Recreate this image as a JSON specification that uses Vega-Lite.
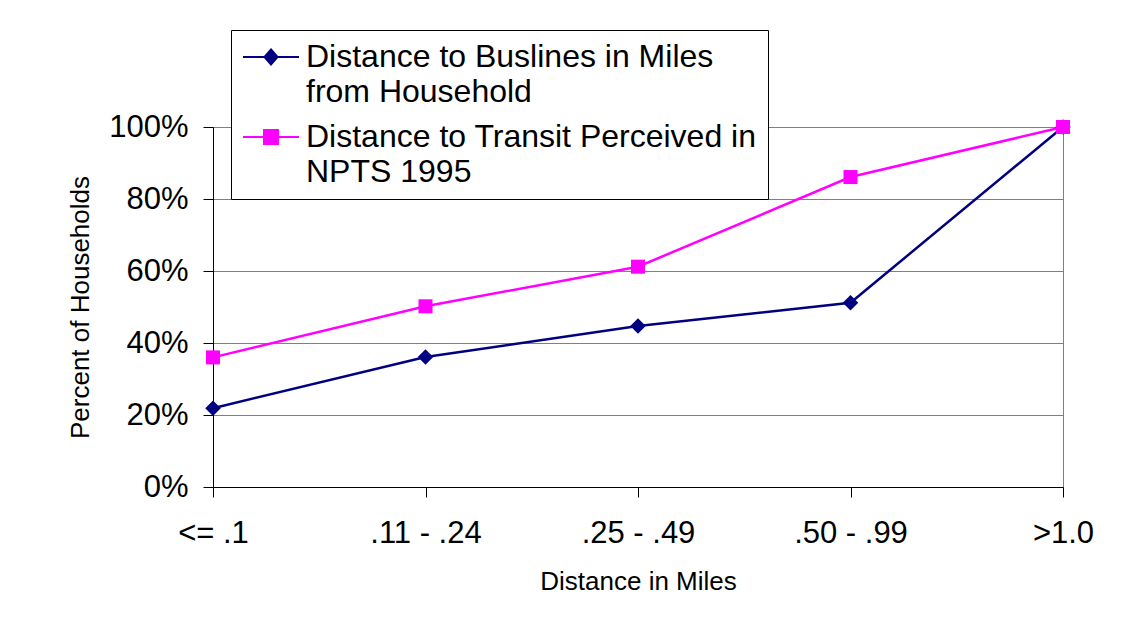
{
  "$schema": "https://vega.github.io/schema/vega-lite/v6.json",
  "autosize": "none",
  "width": 850,
  "height": 360,
  "padding": {"left": 213, "top": 127, "right": 71, "bottom": 141},
  "background": "white",
  "config": {
    "font": "Liberation Sans",
    "view": {"stroke": "#808080", "strokeWidth": 1},
    "axis": {
      "labelFont": "Liberation Sans",
      "titleFont": "Liberation Sans",
      "labelColor": "black",
      "titleColor": "black",
      "titleFontWeight": "normal",
      "domainColor": "black",
      "tickColor": "black",
      "domainWidth": 1,
      "tickWidth": 1
    }
  },
  "data": {
    "values": [
      {"distance": "<= .1", "series": "Buslines", "share": 0.219},
      {"distance": ".11 - .24", "series": "Buslines", "share": 0.361},
      {"distance": ".25 - .49", "series": "Buslines", "share": 0.447},
      {"distance": ".50 - .99", "series": "Buslines", "share": 0.512},
      {"distance": ">1.0", "series": "Buslines", "share": 1.0},
      {"distance": "<= .1", "series": "Transit", "share": 0.36},
      {"distance": ".11 - .24", "series": "Transit", "share": 0.502},
      {"distance": ".25 - .49", "series": "Transit", "share": 0.612},
      {"distance": ".50 - .99", "series": "Transit", "share": 0.861},
      {"distance": ">1.0", "series": "Transit", "share": 1.0}
    ]
  },
  "encoding": {
    "x": {
      "field": "distance",
      "type": "ordinal",
      "sort": ["<= .1", ".11 - .24", ".25 - .49", ".50 - .99", ">1.0"],
      "scale": {"type": "point", "padding": 0},
      "axis": {
        "title": "Distance in Miles",
        "labelAngle": 0,
        "labelFontSize": 31,
        "labelPadding": 21,
        "tickSize": 10,
        "titleFontSize": 26,
        "titlePadding": 20,
        "grid": false
      }
    },
    "y": {
      "field": "share",
      "type": "quantitative",
      "scale": {"domain": [0, 1], "nice": false},
      "axis": {
        "title": "Percent of Households",
        "values": [0, 0.2, 0.4, 0.6, 0.8, 1.0],
        "format": ".0%",
        "labelFontSize": 31,
        "labelPadding": 15,
        "tickSize": 10,
        "titleFontSize": 26,
        "titlePadding": 15,
        "grid": true,
        "gridColor": "#808080",
        "gridWidth": 1,
        "gridOpacity": 1
      }
    },
    "color": {
      "field": "series",
      "type": "nominal",
      "scale": {"domain": ["Buslines", "Transit"], "range": ["#000080", "#FF00FF"]},
      "legend": {
        "title": null,
        "orient": "none",
        "legendX": 18,
        "legendY": -97,
        "direction": "vertical",
        "padding": 11,
        "strokeColor": "black",
        "fillColor": "white",
        "cornerRadius": 0,
        "symbolSize": 900,
        "symbolStrokeWidth": 2,
        "symbolType": "M-1,0H2.733",
        "labelFont": "Liberation Sans",
        "labelFontSize": 32,
        "labelColor": "black",
        "labelLimit": 600,
        "labelOffset": 32,
        "labelBaseline": "middle",
        "rowPadding": 13,
        "labelExpr": "datum.value === 'Buslines' ? ['Distance to Buslines in Miles', 'from Household'] : ['Distance to Transit Perceived in', 'NPTS 1995']",
        "encode": {
          "labels": {"update": {"lineHeight": {"value": 35}}},
          "symbols": {
            "update": {
              "shape": {"signal": "datum.value === 'Buslines' ? 'M-1,0H2.733M0.867,-0.5L1.3,0L0.867,0.5L0.433,0Z' : 'M-1,0H2.733M0.4,-0.467H1.333V0.467H0.4Z'"},
              "size": {"value": 900},
              "fill": {"scale": "color", "field": "value"},
              "stroke": {"scale": "color", "field": "value"},
              "strokeWidth": {"value": 2},
              "opacity": {"value": 1},
              "fillOpacity": {"value": 1},
              "strokeOpacity": {"value": 1}
            }
          }
        }
      }
    }
  },
  "layer": [
    {
      "mark": {"type": "line", "strokeWidth": 2.5}
    },
    {
      "transform": [{"filter": "datum.series === 'Buslines'"}],
      "mark": {"type": "point", "filled": true, "opacity": 1, "shape": "diamond", "size": 240}
    },
    {
      "transform": [{"filter": "datum.series === 'Transit'"}],
      "mark": {"type": "point", "filled": true, "opacity": 1, "shape": "square", "size": 196}
    }
  ]
}
